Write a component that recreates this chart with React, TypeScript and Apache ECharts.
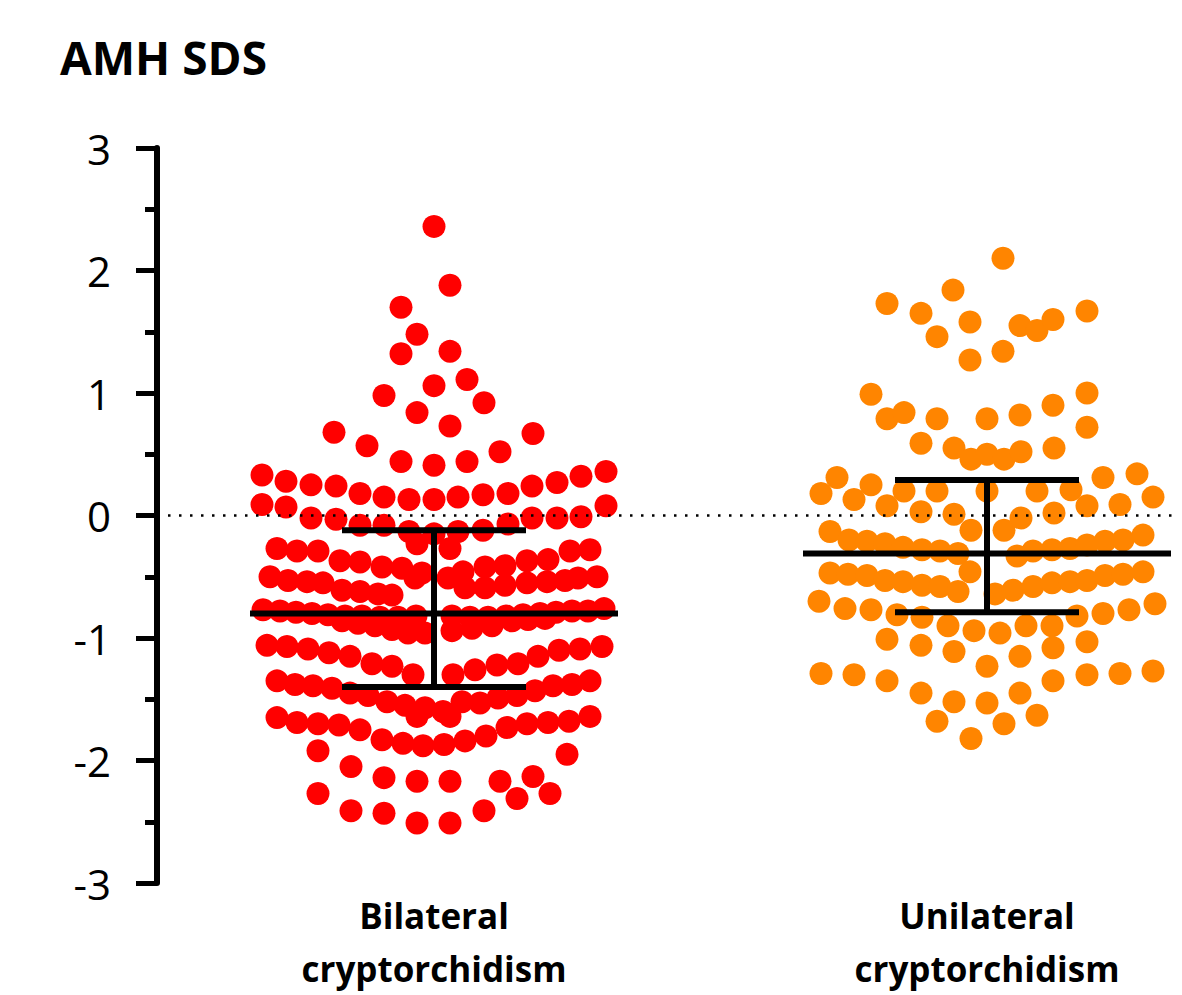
import React, { useEffect, useRef } from "react";
import * as echarts from "echarts";

const TITLE = "AMH SDS";
const CATEGORIES = ["Bilateral\ncryptorchidism", "Unilateral\ncryptorchidism"];
const CATEGORY_POS = [0, 553];
const COLORS = ["#ff0000", "#ff8500"];
const MEANS = [-0.8, -0.31];
const UPPER = [-0.12, 0.29];
const LOWER = [-1.4, -0.79];
const Y_MIN = -3;
const Y_MAX = 3;

// beeswarm points: [horizontal jitter offset, AMH SDS]
const bilateralTop = [
  [0, 2.36], [16, 1.88], [-33, 1.7], [-17, 1.48], [-33, 1.32], [16, 1.34], [0, 1.06], [33, 1.11],
  [-50, 0.98], [50, 0.92], [-17, 0.84], [16, 0.73], [-100, 0.68], [99, 0.67], [-67, 0.57], [66, 0.52],
  [-33, 0.44], [0, 0.41], [33, 0.44],
];
const bilateralRowA = [
  [-172, 0.33], [-148, 0.28], [-123, 0.25], [-98, 0.24], [-74, 0.18], [-50, 0.15], [-25, 0.13], [0, 0.13],
  [24, 0.15], [49, 0.17], [74, 0.18], [98, 0.24], [123, 0.27], [147, 0.32], [172, 0.36],
];
const bilateralRowB = [
  [-172, 0.09], [-148, 0.07], [-123, -0.02], [-98, -0.03], [-74, -0.08], [-50, -0.08], [-25, -0.13], [0, -0.15],
  [24, -0.13], [49, -0.12], [74, -0.07], [98, -0.02], [123, -0.02], [147, -0.01], [172, 0.08],
  [-17, -0.23], [16, -0.27],
];
const bilateralRowC = [
  [-157, -0.27], [-137, -0.29], [-116, -0.29], [-94, -0.37], [-74, -0.38], [-52, -0.42], [-32, -0.43], [-12, -0.47],
  [29, -0.46], [51, -0.42], [71, -0.41], [93, -0.37], [114, -0.36], [136, -0.29], [156, -0.28],
];
const bilateralRowD = [
  [-164, -0.5], [-146, -0.53], [-127, -0.54], [-111, -0.55], [-92, -0.61], [-74, -0.62], [-56, -0.64], [-42, -0.65],
  [-19, -0.51], [14, -0.51], [31, -0.59], [51, -0.59], [71, -0.57], [93, -0.55], [113, -0.54], [131, -0.53],
  [144, -0.51], [163, -0.5],
];
const bilateralRowE = [
  [-171, -0.77], [-154, -0.78], [-138, -0.79], [-122, -0.8], [-106, -0.81], [-89, -0.82], [-72, -0.82], [-54, -0.83],
  [-36, -0.83], [-18, -0.82], [18, -0.82], [36, -0.83], [54, -0.83], [72, -0.82], [89, -0.81], [106, -0.8],
  [122, -0.79], [138, -0.78], [154, -0.78], [170, -0.76],
  [-92, -0.86], [-76, -0.88], [-59, -0.9], [-42, -0.93], [-26, -0.96], [-9, -0.96], [18, -0.94], [38, -0.92],
  [58, -0.9], [78, -0.86], [94, -0.85], [111, -0.84],
];
const bilateralRowF = [
  [-167, -1.06], [-147, -1.07], [-126, -1.09], [-105, -1.12], [-84, -1.15], [-62, -1.21], [-42, -1.23], [-21, -1.3],
  [19, -1.3], [41, -1.26], [63, -1.22], [84, -1.21], [104, -1.15], [125, -1.1], [146, -1.09], [168, -1.07],
];
const bilateralRowG = [
  [-157, -1.35], [-139, -1.38], [-121, -1.39], [-102, -1.41], [-84, -1.45], [-66, -1.47], [-47, -1.52], [-29, -1.55],
  [-9, -1.57], [9, -1.6], [28, -1.52], [46, -1.53], [64, -1.49], [83, -1.47], [101, -1.43], [119, -1.39],
  [138, -1.38], [156, -1.35], [-17, -1.64], [16, -1.64],
];
const bilateralRowH = [
  [-157, -1.65], [-137, -1.69], [-116, -1.7], [-95, -1.71], [-74, -1.75], [-52, -1.83], [-31, -1.86], [-11, -1.88],
  [10, -1.87], [31, -1.84], [52, -1.8], [73, -1.73], [93, -1.7], [114, -1.69], [135, -1.68], [156, -1.64],
];
const bilateralBottom = [
  [-116, -1.92], [-83, -2.05], [-50, -2.14], [-17, -2.17], [16, -2.17], [66, -2.17], [99, -2.13], [133, -1.95],
  [-116, -2.27], [-83, -2.41], [-50, -2.43], [-17, -2.51], [16, -2.51], [50, -2.41], [83, -2.31], [116, -2.27],
];

const unilateralTop = [
  [16, 2.1], [-34, 1.84], [-100, 1.73], [-66, 1.65], [-50, 1.46], [-17, 1.58], [33, 1.55], [50, 1.51],
  [66, 1.6], [100, 1.67], [-17, 1.27], [16, 1.34], [-116, 0.99], [-100, 0.79], [-83, 0.84], [-50, 0.79],
  [0, 0.79], [33, 0.82], [66, 0.9], [100, 1.0], [100, 0.72], [-66, 0.59], [-33, 0.55], [-16, 0.46],
  [0, 0.5], [17, 0.46], [34, 0.52], [67, 0.55],
];
const unilateralMiddle = [
  [-150, 0.31], [-166, 0.18], [-133, 0.13], [-116, 0.25], [-100, 0.08], [-83, 0.2], [-66, 0.03], [-50, 0.2],
  [-33, 0.01], [0, 0.2], [-16, -0.12], [17, -0.12], [34, -0.02], [50, 0.2], [67, 0.02], [84, 0.21],
  [100, 0.08], [116, 0.31], [133, 0.09], [150, 0.34], [166, 0.15],
];
const unilateralRow1 = [
  [-157, -0.13], [-138, -0.2], [-120, -0.21], [-102, -0.23], [-84, -0.26], [-65, -0.28], [-47, -0.29], [-29, -0.31],
  [30, -0.33], [46, -0.29], [65, -0.28], [83, -0.27], [100, -0.24], [118, -0.21], [136, -0.2], [156, -0.16],
];
const unilateralRow2 = [
  [-157, -0.47], [-139, -0.48], [-120, -0.49], [-102, -0.53], [-84, -0.54], [-65, -0.57], [-47, -0.58], [-29, -0.62],
  [-17, -0.46], [8, -0.64], [26, -0.61], [46, -0.58], [65, -0.55], [83, -0.54], [100, -0.53], [118, -0.49],
  [136, -0.48], [156, -0.46],
];
const unilateralRow3 = [
  [-168, -0.7], [-142, -0.76], [-116, -0.77], [-90, -0.81], [-65, -0.83], [-39, -0.9], [-13, -0.94], [13, -0.96],
  [39, -0.9], [65, -0.9], [90, -0.82], [116, -0.8], [142, -0.77], [168, -0.72],
];
const unilateralBottom = [
  [-100, -1.01], [-66, -1.06], [-33, -1.11], [0, -1.23], [33, -1.15], [66, -1.08], [100, -1.03],
  [-166, -1.29], [-133, -1.3], [-100, -1.35], [-66, -1.45], [-33, -1.52], [0, -1.53], [33, -1.45],
  [66, -1.35], [100, -1.3], [133, -1.29], [166, -1.27],
  [-50, -1.68], [17, -1.7], [50, -1.63], [-16, -1.82],
];

const GROUPS = [
  [bilateralTop, bilateralRowA, bilateralRowB, bilateralRowC, bilateralRowD, bilateralRowE, bilateralRowF, bilateralRowG, bilateralRowH, bilateralBottom],
  [unilateralTop, unilateralMiddle, unilateralRow1, unilateralRow2, unilateralRow3, unilateralBottom],
];

const FONT = "'Open Sans', 'DejaVu Sans', sans-serif";

export default function App() {
  const ref = useRef<HTMLDivElement>(null);

  useEffect(() => {
    if (!ref.current) return;
    const chart = echarts.init(ref.current, undefined, { renderer: "svg" });

    const scatterSeries = GROUPS.map((rows, gi) => ({
      type: "scatter",
      name: CATEGORIES[gi],
      z: 2,
      symbol: "circle",
      symbolSize: 23,
      itemStyle: { color: COLORS[gi], opacity: 1 },
      data: rows.flat().map(([dx, v]) => [CATEGORY_POS[gi] + dx, v]),
    }));

    const errData = CATEGORY_POS.map((c, i) => [c, MEANS[i], LOWER[i], UPPER[i]]);

    const option = {
      animation: false,
      backgroundColor: "#ffffff",
      grid: { left: 157, right: 2, top: 148, bottom: 110, containLabel: false },
      xAxis: {
        type: "value",
        min: -277,
        max: 746,
        axisLine: { show: false, onZero: false },
        axisTick: { show: false },
        splitLine: { show: false },
        axisLabel: {
          customValues: CATEGORY_POS,
          formatter: (v: number) => {
            const i = CATEGORY_POS.indexOf(v);
            return i >= 0 ? CATEGORIES[i] : "";
          },
          fontFamily: FONT,
          fontWeight: "bold",
          fontSize: 35,
          lineHeight: 53,
          color: "#000",
          margin: 6,
        },
      },
      yAxis: {
        type: "value",
        min: Y_MIN,
        max: Y_MAX,
        interval: 1,
        axisLine: { show: true, onZero: false, lineStyle: { color: "#000", width: 6 } },
        axisTick: { show: true, length: 21, lineStyle: { color: "#000", width: 5 } },
        minorTick: { show: true, splitNumber: 2, length: 12, lineStyle: { color: "#000", width: 5 } },
        splitLine: { show: false },
        axisLabel: {
          fontFamily: FONT,
          fontSize: 42,
          color: "#000",
          margin: 46,
        },
      },
      graphic: [
        {
          type: "text",
          left: 60,
          top: 34,
          style: {
            text: TITLE,
            fontFamily: FONT,
            fontWeight: "bold",
            fontSize: 46,
            fill: "#000",
          },
        },
      ],
      series: [
        {
          type: "line",
          z: 1,
          data: [],
          silent: true,
          markLine: {
            silent: true,
            symbol: "none",
            label: { show: false },
            lineStyle: { color: "#000", width: 2.5, type: [2.5, 8.5] },
            data: [{ yAxis: 0 }],
          },
        },
        ...scatterSeries,
        {
          type: "custom",
          z: 3,
          silent: true,
          data: errData,
          renderItem: (params: any, api: any) => {
            const c = api.value(0);
            const m = api.value(1);
            const lo = api.value(2);
            const hi = api.value(3);
            const style = { stroke: "#000", lineWidth: 6 };
            const mL = api.coord([c - 184, m]);
            const mR = api.coord([c + 184, m]);
            const hiL = api.coord([c - 92, hi]);
            const hiR = api.coord([c + 92, hi]);
            const loL = api.coord([c - 92, lo]);
            const loR = api.coord([c + 92, lo]);
            const sTop = api.coord([c, hi]);
            const sBot = api.coord([c, lo]);
            return {
              type: "group",
              children: [
                { type: "line", shape: { x1: sTop[0], y1: sTop[1], x2: sBot[0], y2: sBot[1] }, style },
                { type: "line", shape: { x1: mL[0], y1: mL[1], x2: mR[0], y2: mR[1] }, style },
                { type: "line", shape: { x1: hiL[0], y1: hiL[1], x2: hiR[0], y2: hiR[1] }, style },
                { type: "line", shape: { x1: loL[0], y1: loL[1], x2: loR[0], y2: loR[1] }, style },
              ],
            };
          },
        },
      ],
    };

    chart.setOption(option as any);
    return () => chart.dispose();
  }, []);

  return (
    <div
      ref={ref}
      style={{ position: "absolute", left: 0, top: 0, width: 1182, height: 995, background: "#fff" }}
    />
  );
}
